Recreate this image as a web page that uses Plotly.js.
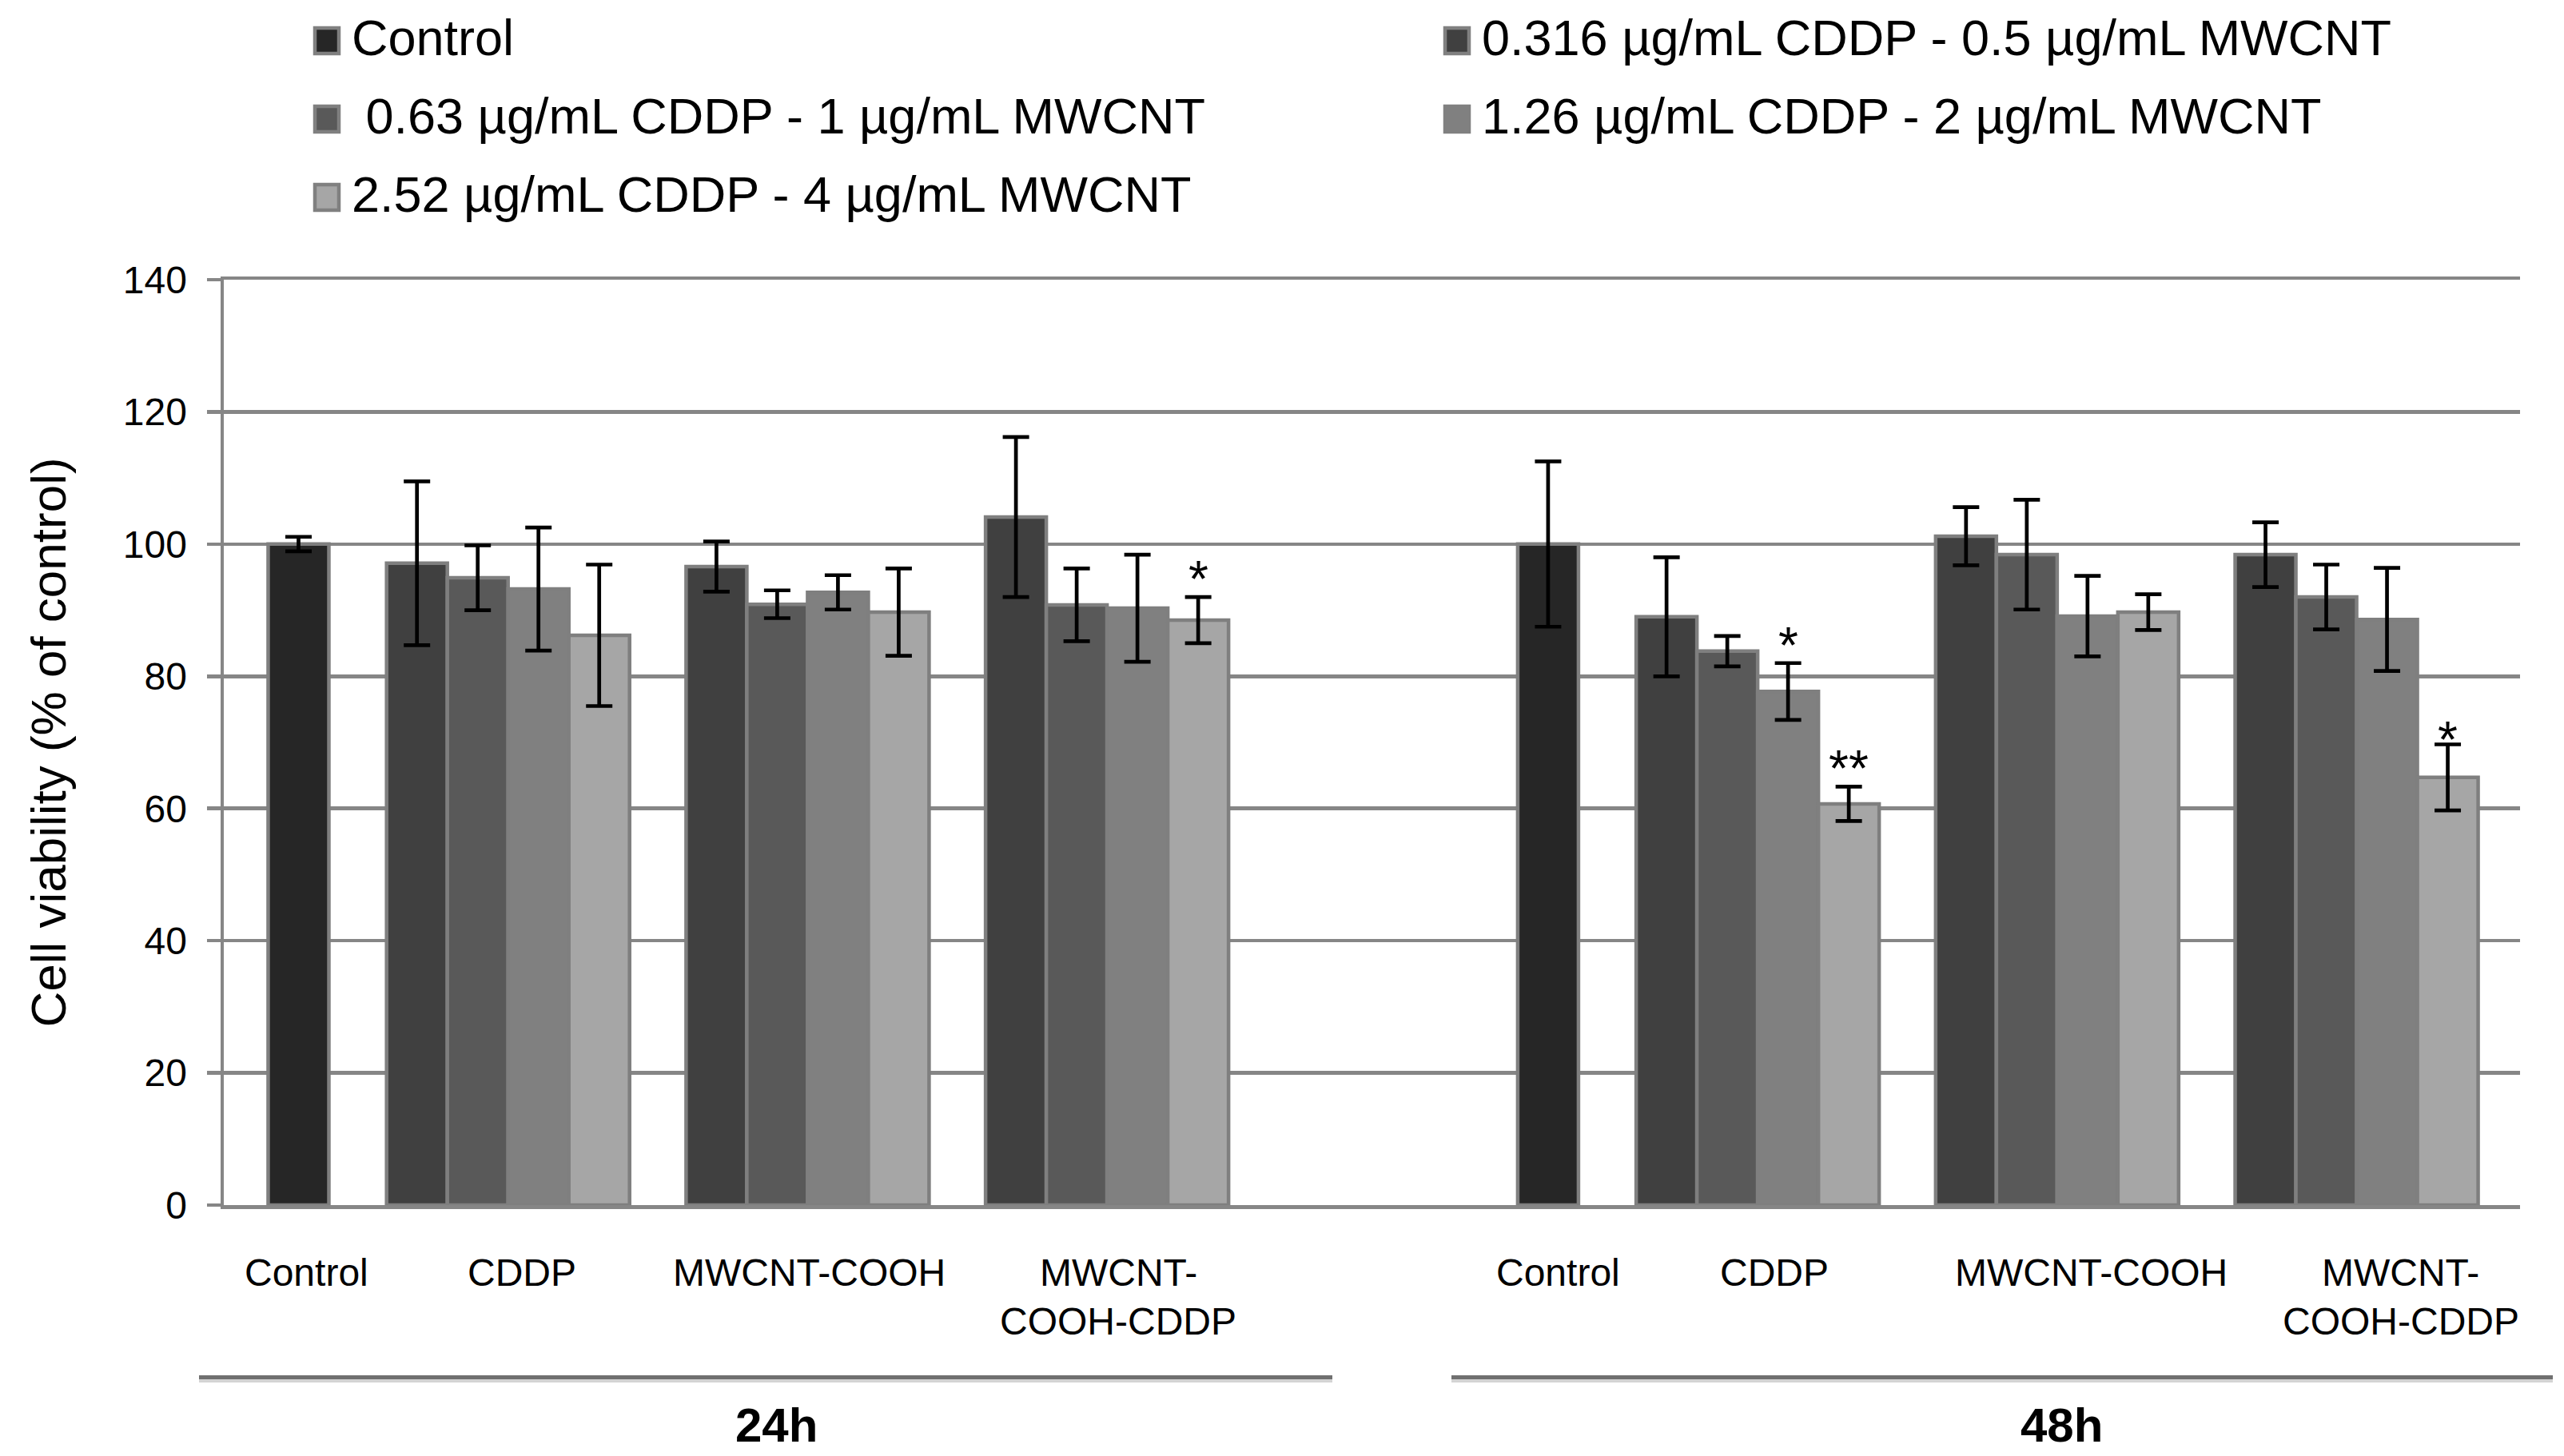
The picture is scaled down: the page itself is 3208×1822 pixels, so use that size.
<!DOCTYPE html>
<html>
<head>
<meta charset="utf-8">
<script src="https://cdn.plot.ly/plotly-3.0.1.min.js"></script>
<style>html,body{margin:0;padding:0;background:#fff;overflow:hidden}</style>
</head>
<body>
<div id="chart" style="width:3208px;height:1822px"></div>
<script>
// ---------------- data ----------------
const timePoints = ['24h', '48h'];
const categoryLabels = ['Control', 'CDDP', 'MWCNT-COOH', 'MWCNT-\nCOOH-CDDP'];
const seriesNames = [
  'Control',
  '0.316 \u00b5g/mL CDDP - 0.5 \u00b5g/mL MWCNT',
  '\u00a00.63 \u00b5g/mL CDDP - 1 \u00b5g/mL MWCNT',
  '1.26 \u00b5g/mL CDDP - 2 \u00b5g/mL MWCNT',
  '2.52 \u00b5g/mL CDDP - 4 \u00b5g/mL MWCNT'
];
// control: [24h, 48h]
const controlMean = [100.0, 100.0];
const controlErr  = [1.1, 12.5];
// dose series: [24h CDDP, 24h MWCNT-COOH, 24h MWCNT-COOH-CDDP, 48h CDDP, 48h MWCNT-COOH, 48h MWCNT-COOH-CDDP]
const dose1Mean = [97.1, 96.6, 104.1, 89.0, 101.2, 98.4];
const dose1Err  = [12.4, 3.8, 12.1, 9.0, 4.4, 4.9];
const dose2Mean = [94.9, 90.9, 90.8, 83.8, 98.4, 92.0];
const dose2Err  = [4.9, 2.1, 5.5, 2.3, 8.3, 4.9];
const dose3Mean = [93.2, 92.7, 90.3, 77.7, 89.1, 88.6];
const dose3Err  = [9.3, 2.6, 8.1, 4.3, 6.1, 7.8];
const dose4Mean = [86.2, 89.7, 88.5, 60.7, 89.7, 64.7];
const dose4Err  = [10.7, 6.6, 3.5, 2.6, 2.7, 5.0];
const dose3Sig  = ['', '', '', '*', '', ''];
const dose4Sig  = ['', '', '*', '**', '', '*'];

// ---------------- style ----------------
const colors = ['#262626', '#404040', '#595959', '#808080', '#a6a6a6'];
const FONT = 'Liberation Sans, Arial, sans-serif';
const GRID = '#868686';
const W = 3208, H = 1822;
const M = {l: 280, r: 55, t: 350, b: 314};
const PW = W - M.l - M.r, PH = H - M.t - M.b;
const px2x = px => (px - M.l) / PW;
const py2y = py => (H - M.b - py) / PH;

// slot geometry (in bar-width units)
const geom = {ctrlToFirst: 1.95, groupPitch: 4.93, blockOffset: 20.57};
const ctrlX = b => b * geom.blockOffset;
const doseX = (b, g, k) => b * geom.blockOffset + geom.ctrlToFirst + g * geom.groupPitch + k;

const doseMeans = [dose1Mean, dose2Mean, dose3Mean, dose4Mean];
const doseErrs  = [dose1Err, dose2Err, dose3Err, dose4Err];
const doseSigs  = [null, null, dose3Sig, dose4Sig];

const barStyle = c => ({color: c, line: {color: '#7f7f7f', width: 4.5}});
const errStyle = arr => ({type: 'data', array: arr, visible: true, color: '#000', thickness: 4.7, width: 16.5});

const traces = [];
traces.push({
  type: 'bar', name: seriesNames[0],
  x: timePoints.map((t, b) => ctrlX(b)), y: controlMean,
  width: 1, marker: barStyle(colors[0]), error_y: errStyle(controlErr)
});
doseMeans.forEach((means, k) => {
  const xs = means.map((v, i) => doseX(Math.floor(i / 3), i % 3, k));
  traces.push({
    type: 'bar', name: seriesNames[k + 1], x: xs, y: means,
    width: 1, marker: barStyle(colors[k + 1]), error_y: errStyle(doseErrs[k])
  });
});

const annotations = [];
const shapes = [];

// significance stars
doseSigs.forEach((sig, k) => {
  if (!sig) return;
  sig.forEach((s, i) => {
    if (!s) return;
    const gap = (i === 5) ? 19 : 36;
    annotations.push({
      xref: 'x', yref: 'y', x: doseX(Math.floor(i / 3), i % 3, k),
      y: doseMeans[k][i] + doseErrs[k][i],
      text: s, showarrow: false, yanchor: 'middle', yshift: gap - 14,
      font: {family: FONT, size: 64, color: '#000'}
    });
  });
});

// category labels under the axis
const labelShift = [10, 17, 2, 14, 13, 21, 43, 55];
timePoints.forEach((t, b) => {
  categoryLabels.forEach((lab, c) => {
    const cx = c === 0 ? ctrlX(b) : doseX(b, c - 1, 1.5);
    lab.split('\n').forEach((line, li) => {
      annotations.push({
        xref: 'x', yref: 'paper', x: cx, y: 0, xshift: labelShift[b * 4 + c],
        yshift: -(84 + li * 61), yanchor: 'middle', xanchor: 'center',
        text: line, showarrow: false,
        font: {family: FONT, size: 48, color: '#000'}
      });
    });
  });
});

// time-point group lines and labels
const timeLines = [[249, 1667], [1816, 3194]];
const timeLabelX = [971, 2579];
timePoints.forEach((t, b) => {
  const [x0, x1] = timeLines[b];
  shapes.push({type: 'line', xref: 'paper', yref: 'paper', x0: px2x(x0), x1: px2x(x1),
    y0: py2y(1728), y1: py2y(1728), line: {color: '#d4d4d4', width: 4}});
  shapes.push({type: 'line', xref: 'paper', yref: 'paper', x0: px2x(x0), x1: px2x(x1),
    y0: py2y(1723.5), y1: py2y(1723.5), line: {color: '#707070', width: 5}});
  annotations.push({
    xref: 'paper', yref: 'paper', x: px2x(timeLabelX[b]), y: py2y(1783),
    xanchor: 'center', yanchor: 'middle', text: '<b>' + t + '</b>', showarrow: false,
    font: {family: FONT, size: 60, color: '#000'}
  });
});

// legend (two columns, three rows)
const legCols = [392, 1806];
const legRow0 = 51, legPitch = 98;
seriesNames.forEach((name, i) => {
  const col = i % 2, row = Math.floor(i / 2);
  const cy = legRow0 + row * legPitch;
  const lx = legCols[col];
  shapes.push({type: 'rect', xref: 'paper', yref: 'paper',
    x0: px2x(lx + 2), x1: px2x(lx + 32), y0: py2y(cy - 16), y1: py2y(cy + 16),
    fillcolor: colors[i], line: {color: '#808080', width: 4.5}});
  annotations.push({
    xref: 'paper', yref: 'paper', x: px2x(lx + 46), y: py2y(cy - 4),
    xanchor: 'left', yanchor: 'middle', text: name, showarrow: false,
    font: {family: FONT, size: 63, color: '#000'}
  });
});

const layout = {
  width: W, height: H, margin: {l: M.l, r: M.r, t: M.t, b: M.b, pad: 0},
  paper_bgcolor: '#fff', plot_bgcolor: '#fff',
  showlegend: false, barmode: 'overlay',
  font: {family: FONT, color: '#000'},
  xaxis: {
    range: [-1.23, 36.57], showgrid: false, zeroline: false, showline: true, mirror: true,
    linecolor: GRID, linewidth: 4.5, ticks: '', showticklabels: false, fixedrange: true
  },
  yaxis: {
    range: [0, 140], dtick: 20, tick0: 0, showgrid: true, gridcolor: GRID, gridwidth: 4.5,
    zeroline: false, showline: true, linecolor: GRID, linewidth: 4.5,
    ticks: 'outside', ticklen: 17, tickwidth: 4.5, tickcolor: GRID,
    tickfont: {family: FONT, size: 48, color: '#000'}, ticklabelstandoff: 15,
    title: {text: 'Cell viability (% of control)', font: {family: FONT, size: 62, color: '#000'}, standoff: 52},
    fixedrange: true
  },
  annotations: annotations,
  shapes: shapes
};

Plotly.newPlot('chart', traces, layout, {displayModeBar: false, staticPlot: true});
</script>
</body>
</html>
